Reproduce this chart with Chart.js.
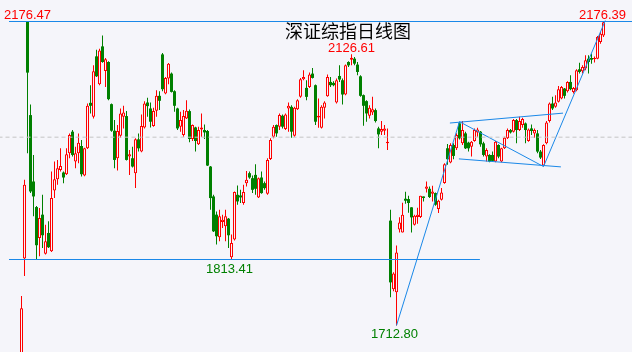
<!DOCTYPE html>
<html>
<head>
<meta charset="utf-8">
<script src="https://cdn.jsdelivr.net/npm/chart.js@4"></script>
<style>
  html, body { margin: 0; padding: 0; background: #F5F5FA; }
  #wrap { width: 632px; height: 352px; }
</style>
</head>
<body>
<div id="wrap"><canvas id="c" width="632" height="352"></canvas></div>
<script>
// 深证综指 daily candles (oldest first)
const opens = [1650.0,1815.0,2176.47,2033.7,1932.4,1893.4,1846.3,1881.8,1822.0,1853.9,1826.1,1918.7,1935.9,1950.1,1946.1,1943.5,1975.4,2008.4,1962.8,1975.4,1986.6,1941.5,1983.0,2052.4,2031.2,2123.3,2080.8,2138.5,2101.0,2114.7,2050.4,2009.9,1967.9,2002.3,2031.2,2032.2,1970.4,1967.9,1945.1,1996.7,1978.0,2014.9,2052.9,2043.8,2017.0,2040.3,2063.1,2126.3,2066.6,2089.4,2097.0,2070.1,2043.8,2016.0,2003.3,2028.6,2039.8,1997.2,2014.9,1989.1,2011.9,2010.9,2009.4,1955.2,1909.6,1881.8,1847.3,1870.6,1864.0,1875.7,1816.9,1843.8,1912.1,1911.1,1899.5,1929.9,1945.1,1937.5,1942.5,1908.1,1938.5,1929.9,1913.7,1966.8,2000.8,2018.5,2016.0,2032.7,2012.4,2043.8,2046.3,2002.3,2042.8,2061.5,2088.4,2075.2,2076.7,2097.0,2079.3,2030.1,2014.4,2044.8,2062.6,2084.3,2082.8,2052.9,2093.4,2086.9,2065.1,2114.7,2118.2,2119.8,2110.7,2092.9,2064.1,2055.0,2032.7,2037.7,2041.3,2013.4,2008.4,2009.9,1990.6,1872.7,1768.0,1763.3,1859.0,1854.5,1906.1,1905.6,1893.0,1866.6,1878.3,1878.3,1909.6,1921.3,1921.3,1913.7,1914.8,1890.5,1904.6,1930.0,1983.1,1961.3,1988.1,1983.1,2021.1,1990.6,2005.8,1991.7,1985.6,1994.2,2007.3,2008.4,1990.6,1970.4,1972.9,1972.9,1962.8,1988.1,1962.8,1983.0,1998.2,2010.9,2008.4,2026.1,2010.9,2018.5,2021.0,1994.2,2013.4,2005.8,2005.8,1978.0,1956.7,1990.6,2024.6,2051.4,2046.3,2053.9,2059.0,2074.2,2070.1,2084.3,2069.1,2071.7,2103.6,2100.5,2104.6,2119.8,2120.8,2118.8,2119.8,2145.1,2155.2];
const highs = [1757.7,1935.0,2176.47,2049.9,1972.9,1895.0,1891.9,1912.1,1866.6,1871.6,1947.6,1962.8,1965.3,1983.0,1947.6,1983.0,2005.8,2010.9,1985.6,2005.8,1995.7,1984.0,2051.4,2079.3,2109.6,2133.4,2135.0,2155.2,2120.8,2115.7,2051.4,2026.1,2018.5,2043.8,2047.9,2039.8,1980.5,1985.6,1998.2,2005.8,2034.7,2054.9,2060.0,2052.9,2044.8,2071.7,2070.1,2128.4,2091.9,2113.2,2098.5,2071.7,2044.8,2038.7,2041.3,2056.5,2042.3,2019.5,2016.0,2016.0,2036.2,2019.5,2010.9,1956.2,1912.1,1886.8,1889.4,1881.8,1889.4,1876.7,1851.4,1917.2,1926.3,1919.7,1927.3,1948.6,1947.6,1941.5,1958.7,1938.5,1947.6,1932.4,1967.9,1998.2,2018.5,2019.5,2036.2,2034.7,2036.2,2052.9,2048.9,2046.3,2058.0,2090.4,2102.0,2086.9,2098.5,2105.6,2080.3,2059.0,2048.9,2054.9,2095.5,2091.9,2085.3,2089.4,2109.6,2089.4,2110.7,2115.7,2126.61,2122.3,2114.7,2094.4,2065.1,2056.5,2048.9,2061.5,2043.8,2016.0,2024.6,2018.5,2013.4,1889.4,1794.0,1834.7,1878.0,1900.0,1916.8,1910.7,1893.0,1881.8,1892.5,1910.7,1909.6,1932.4,1924.8,1925.9,1915.7,1904.6,1922.4,1960.3,1989.7,1990.7,1990.7,2005.9,2023.6,2024.6,2008.4,1993.2,1994.2,2013.4,2014.4,2009.4,1993.2,1983.0,1973.9,1978.0,1994.2,1989.1,1984.0,2000.8,2013.4,2012.4,2027.6,2027.6,2031.2,2029.6,2022.5,2013.4,2019.5,2013.4,2010.9,1980.5,1989.1,2024.6,2052.9,2061.5,2064.1,2078.2,2078.2,2075.2,2085.3,2094.4,2076.7,2103.6,2113.7,2109.6,2124.8,2124.8,2127.4,2123.0,2154.2,2160.3,2176.39];
const lows = [1645.0,1788.1,1975.4,1914.7,1879.2,1812.5,1818.5,1831.1,1821.0,1831.1,1825.0,1907.1,1927.3,1947.6,1929.9,1942.5,1967.9,1970.4,1952.7,1960.3,1940.0,1940.5,1982.0,2036.2,2028.6,2091.9,2079.3,2113.7,2076.7,2056.5,2008.4,1952.7,1949.1,1999.2,2013.4,1964.3,1942.5,1953.7,1922.3,1978.0,1977.0,2013.4,2031.2,2014.9,2016.0,2031.2,2041.3,2070.1,2065.6,2080.8,2068.1,2038.7,2010.9,2008.4,2000.8,2027.6,1992.2,1994.2,1978.0,1988.1,2000.8,1997.2,1956.2,1889.3,1855.4,1836.2,1841.2,1861.5,1841.2,1831.1,1813.41,1842.3,1897.0,1899.5,1897.0,1924.8,1936.5,1914.7,1912.1,1907.1,1913.7,1919.7,1912.1,1965.3,1998.2,2000.8,2010.9,2013.4,2010.9,2008.4,1999.2,2000.8,2041.3,2060.0,2086.9,2056.5,2075.2,2089.4,2018.5,2014.4,2013.4,2028.6,2061.5,2076.7,2077.7,2051.4,2084.3,2049.9,2064.1,2107.1,2109.6,2109.6,2094.4,2061.5,2017.5,2023.6,2028.6,2033.7,2022.5,1983.0,2003.3,2003.3,1980.5,1755.7,1765.0,1712.8,1854.5,1854.5,1898.5,1884.8,1854.5,1865.1,1868.1,1876.8,1902.0,1915.6,1907.2,1902.0,1895.5,1884.4,1903.5,1928.9,1957.8,1960.3,1966.4,1980.5,1996.3,1988.1,1982.0,1978.0,1970.4,1993.2,2000.8,1985.6,1970.4,1962.8,1961.8,1962.8,1961.8,1967.9,1961.8,1982.0,1997.2,2005.8,2007.3,1990.6,2009.4,2014.4,1990.6,1993.2,2003.3,1999.2,1975.4,1966.8,1955.2,1989.1,2022.5,2041.3,2044.8,2052.9,2058.0,2059.0,2068.1,2071.7,2066.6,2070.1,2097.0,2097.0,2102.0,2097.0,2112.2,2114.0,2118.8,2142.6,2152.7];
const closes = [1739.0,1927.4,2098.5,1917.2,1909.6,1835.2,1876.7,1850.4,1841.2,1832.1,1907.1,1935.9,1952.7,1956.2,1938.5,1973.9,2003.3,1972.9,1975.4,1991.7,1943.5,1983.0,2047.9,2047.9,2100.5,2092.9,2132.4,2114.7,2118.8,2058.0,2009.9,1965.3,2009.4,2036.2,2037.7,1965.3,1973.9,1955.2,1996.7,1983.0,2017.0,2051.4,2047.4,2023.6,2039.8,2063.1,2055.5,2073.2,2090.4,2112.2,2069.1,2047.9,2013.4,2026.1,2032.2,2040.3,1997.2,2018.5,1994.2,2010.9,2014.9,2007.3,1956.7,1907.1,1856.4,1848.9,1879.2,1874.2,1879.2,1850.4,1838.7,1916.2,1902.0,1908.1,1916.2,1934.9,1938.5,1919.7,1921.3,1937.5,1914.7,1922.3,1965.3,1995.7,2016.0,2005.8,2033.7,2016.0,2034.7,2047.9,2008.4,2044.8,2056.5,2088.4,2091.9,2061.5,2095.5,2090.4,2023.6,2032.7,2046.3,2052.9,2091.9,2079.3,2079.3,2086.9,2087.9,2065.1,2109.6,2109.6,2121.3,2112.2,2099.5,2063.1,2047.9,2036.2,2044.8,2042.8,2024.6,2004.3,2012.4,2013.4,1993.2,1778.5,1792.2,1824.1,1869.7,1881.8,1903.1,1899.6,1877.7,1880.3,1881.8,1910.7,1907.2,1924.8,1908.7,1917.2,1897.0,1903.1,1915.7,1958.8,1966.4,1988.1,1971.4,2003.3,1998.3,2010.9,1983.0,1983.0,1993.2,2010.9,2011.9,1989.1,1972.9,1980.5,1962.8,1963.8,1993.2,1970.4,1983.0,1999.2,2010.9,2007.3,2026.1,2010.9,2024.6,2027.6,2010.9,2011.9,2009.4,2010.9,1978.0,1968.9,1988.1,2022.5,2051.4,2043.8,2052.9,2073.2,2076.7,2063.1,2084.3,2073.2,2075.2,2102.0,2099.5,2107.1,2117.2,2114.7,2118.2,2120.8,2152.7,2157.7,2175.5];

// Marked extremes: [candle index, value, placement]
const markHigh = [[2, 2176.47], [110, 2126.61], [194, 2176.39]];
const markLow = [[70, 1813.41], [125, 1712.80]];

// Reference levels and trend lines, as [index, value] points
const levelTop = [[-4.17, 2176.47], [210, 2176.47]];
const levelLow = [[-4.17, 1813.41], [152.8, 1813.41]];
const level2000 = [[-10, 2000], [210, 2000]];
const riseA = [[125, 1712.8], [146, 2023.6]];
const flagTop = [[142.8, 2021.6], [180.5, 2036.7]];
const flagBottom = [[145.8, 1966.9], [179.8, 1954.7]];
const flagDiag = [[146, 2023.6], [174, 1955.2]];
const riseB = [[174, 1955.2], [194.6, 2178.0]];

const title = '深证综指日线图';

const BG = '#F5F5FA';
const UP = '#FF0000';
const DOWN = '#008000';
const TREND = '#1A88E8';

const idx = opens.map((_, i) => i);
const isUp = idx.map(i => closes[i] >= opens[i]);

const toXY = pts => pts.map(p => ({ x: p[0], y: p[1] }));
const lineSet = (pts, color, dash) => ({
  type: 'line',
  data: toXY(pts),
  borderColor: color,
  borderWidth: 1,
  borderDash: dash || [],
  pointRadius: 0,
  fill: false,
  tension: 0,
  order: 0
});

const xMin = -7 - 1 / 6;
const xMax = xMin + 632 / 3;

const bgPlugin = {
  id: 'bg',
  beforeDraw(chart) {
    const ctx = chart.ctx;
    ctx.save();
    ctx.fillStyle = BG;
    ctx.fillRect(0, 0, chart.width, chart.height);
    ctx.restore();
  }
};

const labelPlugin = {
  id: 'labels',
  afterDraw(chart) {
    const ctx = chart.ctx;
    const xs = chart.scales.x, ys = chart.scales.y;
    ctx.save();
    ctx.font = '13px "Liberation Sans", Arial, sans-serif';
    ctx.textBaseline = 'alphabetic';
    const put = (txt, cx, base, color) => {
      const w = ctx.measureText(txt).width;
      let left = cx - w / 2;
      left = Math.max(2, Math.min(chart.width - 6 - w, left));
      ctx.fillStyle = color;
      ctx.textAlign = 'left';
      ctx.fillText(txt, left, base);
    };
    markHigh.forEach(([i, v]) => {
      put(v.toFixed(2), xs.getPixelForValue(i), ys.getPixelForValue(v) - 2.5, UP);
    });
    markLow.forEach(([i, v]) => {
      put(v.toFixed(2), xs.getPixelForValue(i) - 2, ys.getPixelForValue(v) + 13, DOWN);
    });
    ctx.font = '18px "Noto Sans CJK SC", sans-serif';
    ctx.fillStyle = '#000000';
    ctx.textAlign = 'center';
    ctx.fillText(title, 348, 38);
    ctx.restore();
  }
};

new Chart(document.getElementById('c'), {
  type: 'bar',
  data: {
    datasets: [
      {
        label: 'body',
        data: idx.map(i => ({ x: i, y: [opens[i], closes[i]] })),
        backgroundColor: idx.map(i => isUp[i] ? BG : DOWN),
        borderColor: idx.map(i => isUp[i] ? UP : DOWN),
        borderWidth: idx.map(i => isUp[i] ? 1 : 0),
        borderSkipped: false,
        barThickness: 3,
        minBarLength: 1,
        grouped: false,
        inflateAmount: 0,
        order: 1
      },
      {
        label: 'wick',
        data: idx.map(i => ({ x: i, y: [lows[i], highs[i]] })),
        backgroundColor: idx.map(i => isUp[i] ? UP : DOWN),
        borderWidth: 0,
        barThickness: 1,
        grouped: false,
        inflateAmount: 0,
        order: 2
      },
      lineSet(level2000, '#C4C4C4', [4, 3]),
      lineSet(levelTop, TREND),
      lineSet(levelLow, TREND),
      lineSet(riseA, TREND),
      lineSet(flagTop, TREND),
      lineSet(flagBottom, TREND),
      lineSet(flagDiag, TREND),
      lineSet(riseB, TREND)
    ]
  },
  options: {
    responsive: false,
    devicePixelRatio: 1,
    animation: false,
    layout: { padding: 0 },
    plugins: { legend: { display: false }, tooltip: { enabled: false } },
    scales: {
      x: { type: 'linear', min: xMin, max: xMax, offset: false, display: false },
      y: { type: 'linear', min: 1672.31, max: 2209.27, display: false }
    }
  },
  plugins: [bgPlugin, labelPlugin]
});
</script>
</body>
</html>
